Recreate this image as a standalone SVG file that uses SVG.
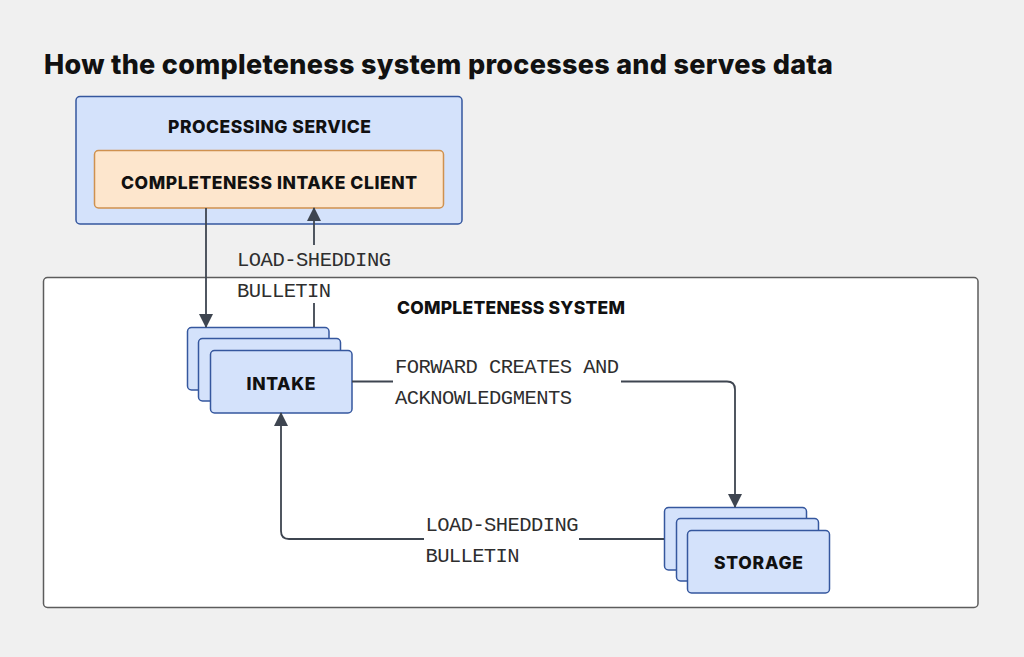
<svg xmlns="http://www.w3.org/2000/svg" width="1024" height="657" viewBox="0 0 1024 657">
<defs>
<style>
.title{font-family:Inter,"Liberation Sans",Arial,sans-serif;font-weight:800;font-size:27px;fill:#111}
.hdr{font-family:Inter,"Liberation Sans",Arial,sans-serif;font-weight:800;font-size:17.5px;fill:#111;text-anchor:middle}
.lbl{font-family:"Liberation Mono","DejaVu Sans Mono",monospace;font-size:20.5px;fill:#2e2e2e}
.blue{fill:#d4e2fb;stroke:#35579e;stroke-width:1.5}
.orange{fill:#fde6cd;stroke:#cf914f;stroke-width:1.5}
.conn{fill:none;stroke:#3e4550;stroke-width:1.8}
</style>
<marker id="arr" markerUnits="userSpaceOnUse" markerWidth="14" markerHeight="14" refX="13" refY="7" orient="auto" viewBox="0 0 14 14">
<path d="M0,0 L14,7 L0,14 z" fill="#3e4550"/>
</marker>
</defs>
<rect x="0" y="0" width="1024" height="657" fill="#f0f0f0"/>
<text class="title" x="44" y="74" textLength="789">How the completeness system processes and serves data</text>

<g id="completeness-system">
<rect x="43.5" y="277.5" width="934.5" height="330" rx="4" fill="#fff" stroke="#5c5c5c" stroke-width="1.5"/>
<text class="hdr" x="511" y="314" textLength="228">COMPLETENESS SYSTEM</text>
</g>

<g id="processing-service">
<rect class="blue" x="76" y="96.5" width="386" height="127.5" rx="4"/>
<text class="hdr" x="269.5" y="133" textLength="203">PROCESSING SERVICE</text>
</g>

<g id="intake-client">
<rect class="orange" x="94.5" y="150.5" width="349" height="57.5" rx="4"/>
<text class="hdr" x="269" y="189" textLength="296">COMPLETENESS INTAKE CLIENT</text>
</g>

<g id="intake">
<rect class="blue" x="187.5" y="327.5" width="141.5" height="62.5" rx="4"/>
<rect class="blue" x="198.5" y="338.5" width="142" height="62.5" rx="4"/>
<rect class="blue" x="210.5" y="350.5" width="141.5" height="62.5" rx="4"/>
<text class="hdr" x="281" y="389.5" textLength="69">INTAKE</text>
</g>

<g id="storage">
<rect class="blue" x="664.5" y="507.5" width="142" height="62.5" rx="4"/>
<rect class="blue" x="676.5" y="518.5" width="142" height="62.5" rx="4"/>
<rect class="blue" x="687.5" y="530.5" width="142" height="62.5" rx="4"/>
<text class="hdr" x="758.5" y="569" textLength="89">STORAGE</text>
</g>

<g id="connectors">
<path class="conn" d="M206,208 V327" marker-end="url(#arr)"/>
<path class="conn" d="M314,327 V303 M314,245 V208" marker-end="url(#arr)"/>
<path class="conn" d="M352,381.5 H393 M621,381.5 H727 Q735,381.5 735,389.5 V507" marker-end="url(#arr)"/>
<path class="conn" d="M664,539 H579 M424,539 H289 Q281,539 281,531 V413" marker-end="url(#arr)"/>
<text class="lbl" x="237" y="266" textLength="154">LOAD-SHEDDING</text>
<text class="lbl" x="237" y="297" textLength="94">BULLETIN</text>
<text class="lbl" x="395" y="373" textLength="224">FORWARD CREATES AND</text>
<text class="lbl" x="395" y="404" textLength="177">ACKNOWLEDGMENTS</text>
<text class="lbl" x="425.5" y="531" textLength="153">LOAD-SHEDDING</text>
<text class="lbl" x="425.5" y="562" textLength="94">BULLETIN</text>
</g>
</svg>
